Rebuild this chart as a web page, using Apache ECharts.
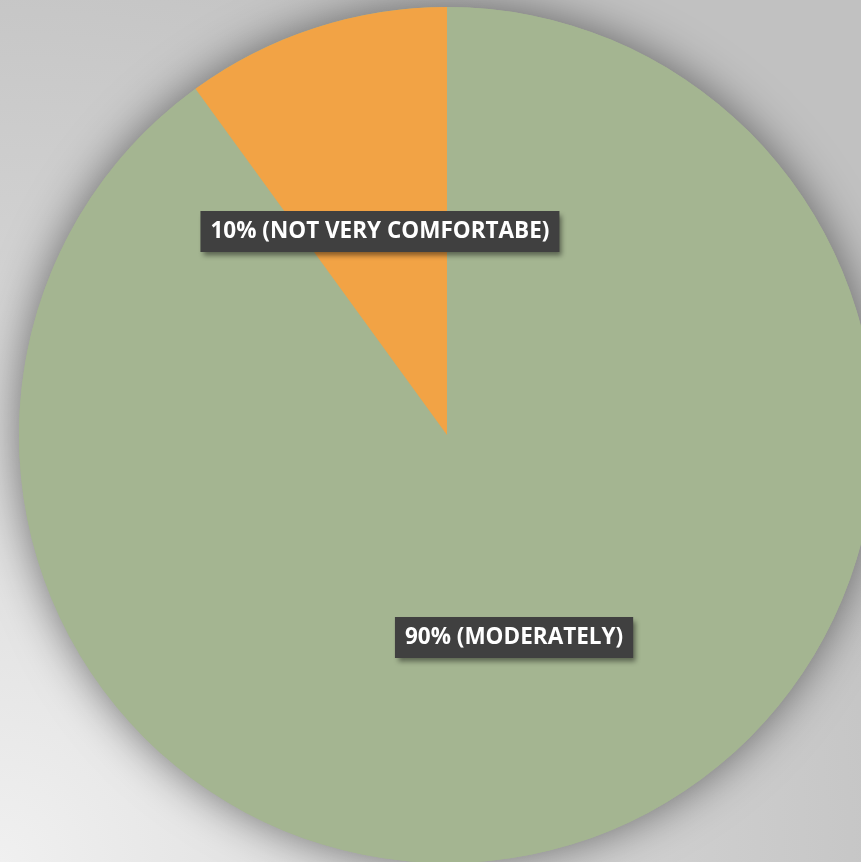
<!DOCTYPE html>
<html>
<head>
<meta charset="utf-8">
<script src="https://cdn.jsdelivr.net/npm/echarts@6/dist/echarts.min.js"></script>
<style>
  html, body { margin: 0; padding: 0; }
  #chart { width: 861px; height: 862px; }
</style>
</head>
<body>
<div id="chart"></div>
<script>
// Comfort level responses
const categories = ['MODERATELY', 'NOT VERY COMFORTABE'];
const shares = [90, 10];
const sliceColors = ['#A4B591', '#F2A345'];
// pull each label slightly toward the centre of the disc
const labelShift = [[0, -4], [0, 3]];

const pieCenter = [447, 435];
const pieRadius = 428;

const chart = echarts.init(document.getElementById('chart'), null, { renderer: 'canvas' });

chart.setOption({
  backgroundColor: {
    type: 'radial', x: 0, y: 1, r: 1.15,
    colorStops: [
      { offset: 0, color: '#f0f0f0' },
      { offset: 0.6, color: '#d2d2d2' },
      { offset: 1, color: '#c1c1c1' }
    ]
  },
  animation: false,
  series: [
    {
      // soft drop shadow under the whole disc
      type: 'pie',
      silent: true,
      center: pieCenter,
      radius: pieRadius,
      label: { show: false },
      labelLine: { show: false },
      itemStyle: {
        color: '#A4B591',
        shadowBlur: 45,
        shadowColor: 'rgba(0,0,0,0.5)'
      },
      data: [{ value: 1, name: '' }],
      z: 1
    },
    {
      type: 'pie',
      center: pieCenter,
      radius: pieRadius,
      startAngle: 90,
      clockwise: true,
      z: 2,
      labelLine: { show: false },
      label: {
        show: true,
        position: 'inside',
        formatter: p => p.value + '% (' + p.name + ')',
        color: '#ffffff',
        fontFamily: 'Open Sans, Liberation Sans, sans-serif',
        fontWeight: 'bold',
        fontSize: 22.5,
        lineHeight: 23,
        backgroundColor: '#404040',
        padding: [9, 10, 9, 10],
        shadowBlur: 5,
        shadowOffsetX: 3,
        shadowOffsetY: 4,
        shadowColor: 'rgba(0,0,0,0.45)'
      },
      itemStyle: { borderWidth: 0 },
      data: categories.map((name, i) => ({
        name: name,
        value: shares[i],
        itemStyle: { color: sliceColors[i] },
        label: { offset: labelShift[i] }
      }))
    }
  ]
});
</script>
</body>
</html>
